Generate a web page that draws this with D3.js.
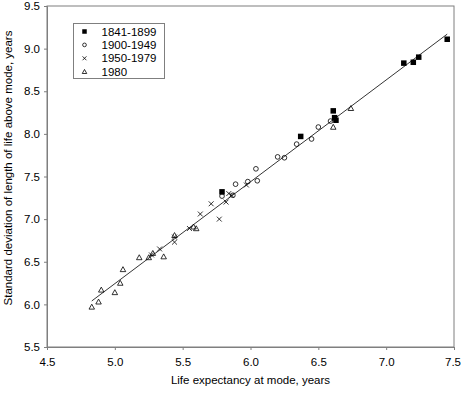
<!DOCTYPE html>
<html>
<head>
<meta charset="utf-8">
<script src="https://cdn.jsdelivr.net/npm/d3@7"></script>
<style>
  body { margin: 0; background: #fff; }
  svg { display: block; font-family: "Liberation Sans", Arial, sans-serif; }
</style>
</head>
<body>
<div id="app"></div>
<script>
// data: [life expectancy at mode, sd above mode]
const s1841 = [[5.79, 7.32], [6.37, 7.97], [6.61, 8.27], [6.62, 8.19], [6.63, 8.16],
  [7.13, 8.83], [7.20, 8.84], [7.24, 8.90], [7.45, 9.11]]
const s1900 = [[5.79, 7.27], [5.87, 7.28], [5.89, 7.41], [5.98, 7.44], [6.04, 7.59],
  [6.05, 7.45], [6.20, 7.73], [6.25, 7.72], [6.34, 7.88], [6.45, 7.94], [6.50, 8.08], [6.59, 8.15]]
const s1950 = [[5.27, 6.58], [5.33, 6.65], [5.44, 6.73], [5.44, 6.79], [5.55, 6.89],
  [5.63, 7.06], [5.71, 7.18], [5.77, 7.00], [5.82, 7.20], [5.84, 7.30], [5.86, 7.28], [5.97, 7.40]]
const s1980 = [[4.83, 5.97], [4.88, 6.03], [4.90, 6.17], [5.00, 6.14], [5.04, 6.25],
  [5.06, 6.41], [5.18, 6.55], [5.25, 6.55], [5.28, 6.60], [5.36, 6.56], [5.44, 6.81],
  [5.58, 6.91], [5.60, 6.89], [6.61, 8.08], [6.74, 8.30]]
const fitLine = [[4.83, 6.04], [7.45, 9.17]]

const seriesNames = ['1841-1899', '1900-1949', '1950-1979', '1980']
const xTicks = [4.5, 5.0, 5.5, 6.0, 6.5, 7.0, 7.5]
const yTicks = [5.5, 6.0, 6.5, 7.0, 7.5, 8.0, 8.5, 9.0, 9.5]

const W = 461, H = 403
const margin = { top: 6, right: 7, bottom: 56, left: 47 }
const frameColor = '#7f7f7f'

const svg = d3.select('#app').append('svg').attr('width', W).attr('height', H)

const x = d3.scaleLinear().domain([4.5, 7.5]).range([margin.left, W - margin.right])
const y = d3.scaleLinear().domain([5.5, 9.5]).range([H - margin.bottom, margin.top])

// marker shapes
function drawMarker(g, kind, s) {
  if (kind === 'square') {
    g.append('rect').attr('x', -s / 2).attr('y', -s / 2).attr('width', s).attr('height', s)
      .attr('fill', '#000')
  } else if (kind === 'circle') {
    g.append('circle').attr('r', s / 2 - 0.4).attr('fill', 'none').attr('stroke', '#000').attr('stroke-width', 0.8)
  } else if (kind === 'times') {
    const h = s / 2 - 0.3
    g.append('path').attr('d', `M${-h},${-h}L${h},${h}M${-h},${h}L${h},${-h}`)
      .attr('stroke', '#000').attr('stroke-width', 0.8).attr('fill', 'none')
  } else {
    const h = s / 2
    g.append('path').attr('d', `M0,${-h}L${h},${h * 0.8}L${-h},${h * 0.8}Z`)
      .attr('stroke', '#000').attr('stroke-width', 0.8).attr('fill', 'none')
  }
}

const series = [
  { name: seriesNames[0], kind: 'square', data: s1841 },
  { name: seriesNames[1], kind: 'circle', data: s1900 },
  { name: seriesNames[2], kind: 'times', data: s1950 },
  { name: seriesNames[3], kind: 'triangle', data: s1980 },
]

// plot frame
svg.append('rect')
  .attr('x', x(4.5)).attr('y', y(9.5))
  .attr('width', x(7.5) - x(4.5)).attr('height', y(5.5) - y(9.5))
  .attr('fill', 'none').attr('stroke', frameColor)

// axes
const xAxis = svg.append('g')
  .attr('transform', `translate(0,${y(5.5)})`)
  .call(d3.axisBottom(x).tickValues(xTicks).tickFormat(d3.format('.1f')).tickSize(3).tickPadding(8))
const yAxis = svg.append('g')
  .attr('transform', `translate(${x(4.5)},0)`)
  .call(d3.axisLeft(y).tickValues(yTicks).tickFormat(d3.format('.1f')).tickSize(3).tickPadding(4))

for (const ax of [xAxis, yAxis]) {
  ax.select('.domain').attr('stroke', frameColor)
  ax.selectAll('.tick line').attr('stroke', frameColor)
  ax.selectAll('.tick text').attr('font-size', 11.5).attr('fill', '#000')
    .attr('font-family', '"Liberation Sans", Arial, sans-serif')
}
// last x label sits right at the page edge
xAxis.selectAll('.tick text').filter((d) => d === 7.5).attr('dx', -1.5)

// fit line
svg.append('line')
  .attr('x1', x(fitLine[0][0])).attr('y1', y(fitLine[0][1]))
  .attr('x2', x(fitLine[1][0])).attr('y2', y(fitLine[1][1]))
  .attr('stroke', '#000').attr('stroke-width', 0.8)

// points
for (const s of series) {
  svg.append('g').selectAll('g')
    .data(s.data)
    .join('g')
    .attr('transform', (d) => `translate(${x(d[0])},${y(d[1])})`)
    .each(function () { drawMarker(d3.select(this), s.kind, 5.5) })
}

// axis titles
svg.append('text')
  .attr('x', (x(4.5) + x(7.5)) / 2).attr('y', 384)
  .attr('text-anchor', 'middle').attr('font-size', 11.5)
  .text('Life expectancy at mode, years')

svg.append('text')
  .attr('transform', `translate(12,168) rotate(-90)`)
  .attr('text-anchor', 'middle').attr('font-size', 11.5)
  .text('Standard deviation of length of life above mode, years')

// legend
svg.append('rect')
  .attr('x', 73.5).attr('y', 23.5).attr('width', 91).attr('height', 55)
  .attr('fill', '#fff').attr('stroke', frameColor)
series.forEach((s, i) => {
  const row = svg.append('g').attr('transform', `translate(84.5,${31.5 + i * 13.4})`)
  drawMarker(row, s.kind, 4.5)
  row.append('text').attr('x', 17).attr('y', 4).attr('font-size', 11.5).text(s.name)
})
</script>
</body>
</html>
